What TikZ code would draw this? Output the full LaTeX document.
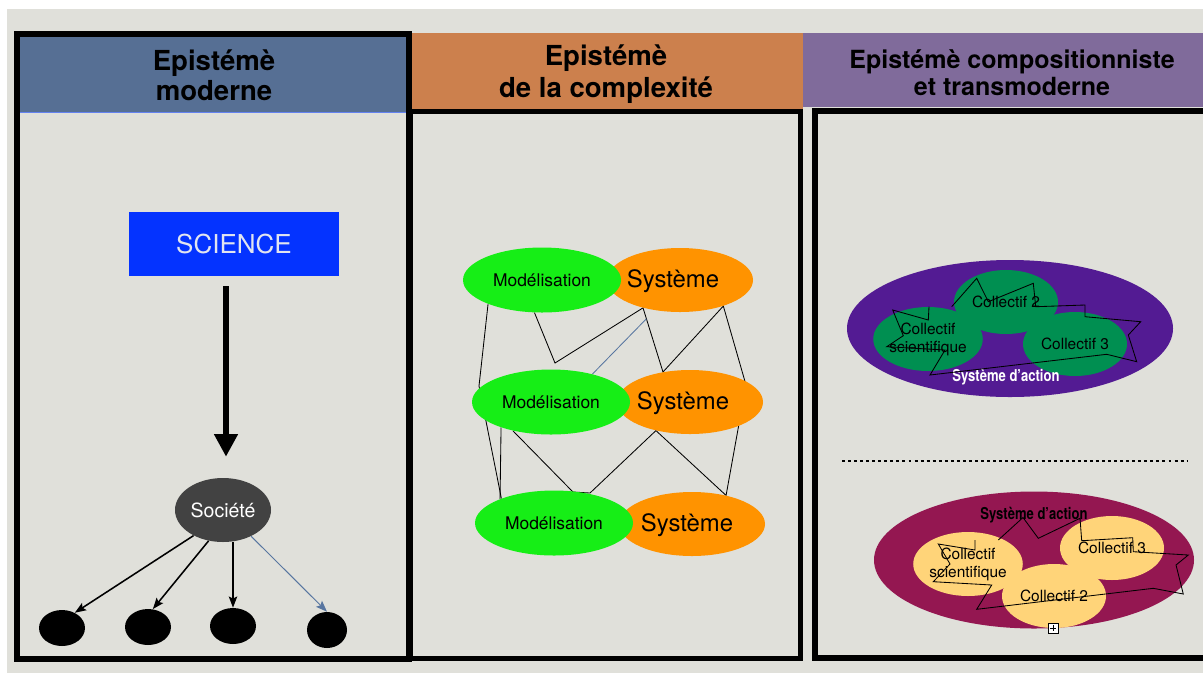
\documentclass[tikz,border=0pt]{standalone}
\usepackage{fontspec}
\setmainfont{TeX Gyre Heros}
\newfontfamily\condfont[FakeStretch=0.8]{TeX Gyre Heros}
\usetikzlibrary{shapes.geometric,arrows.meta,calc}
\pgfdeclarelayer{canvas}
\pgfdeclarelayer{links}
\pgfsetlayers{canvas,links,main}
\newdimen\pxu \pxu=0.025cm
\definecolor{canvasgray}{RGB}{224,224,218}
\definecolor{hdrblue}{RGB}{86,111,148}
\definecolor{hdrorange}{RGB}{204,128,77}
\definecolor{hdrpurple}{RGB}{128,107,155}
\definecolor{hdrline}{RGB}{100,130,240}
\definecolor{sciblue}{RGB}{4,51,255}
\definecolor{sciletter}{RGB}{226,229,240}
\definecolor{socgray}{RGB}{66,66,66}
\definecolor{slate}{RGB}{88,118,160}
\definecolor{modgreen}{RGB}{22,238,22}
\definecolor{sysorange}{RGB}{255,147,0}
\definecolor{collmoss}{RGB}{0,143,81}
\definecolor{ovalgrape}{RGB}{83,27,147}
\definecolor{ovalplum}{RGB}{148,23,81}
\definecolor{collmelon}{RGB}{255,212,121}
\begin{document}
\begin{tikzpicture}[x=0.025cm, y=-0.025cm,
    hdr/.style={inner sep=0, align=center, font=\bfseries},
    panelframe/.style={line width=6\pxu},
    scibox/.style={rectangle, fill=sciblue, inner sep=0, minimum width=210\pxu, minimum height=64\pxu,
      text=sciletter, font=\fontsize{18.5}{20}\selectfont},
    socnode/.style={ellipse, fill=socgray, inner sep=0, minimum width=96\pxu, minimum height=64\pxu,
      text=white, font=\fontsize{13.9}{15}\selectfont},
    blob/.style={ellipse, fill=black, inner sep=0, minimum width=46\pxu, minimum height=36\pxu},
    bigarrow/.style={line width=5.5\pxu, -{Triangle[width=16pt,length=16pt]}},
    sarrow/.style={line width=1.1pt, -{Stealth[length=8pt,width=6pt,inset=1.5pt]}},
    modl/.style={ellipse, fill=modgreen, inner sep=0, minimum width=158\pxu, minimum height=65\pxu,
      font=\fontsize{12.4}{14}\selectfont},
    sys/.style={ellipse, fill=sysorange, inner sep=0, minimum width=146\pxu, minimum height=64\pxu},
    systxt/.style={inner sep=0, font=\fontsize{17}{19}\selectfont},
    webline/.style={line width=0.6pt, line join=miter},
    coll/.style={ellipse, inner sep=0, minimum width=104\pxu, minimum height=64\pxu, align=center,
      font=\fontsize{11}{12.8}\selectfont},
    actlbl/.style={inner sep=0, font=\condfont\bfseries\fontsize{11.6}{13}\selectfont},
    scrib/.style={line width=0.6pt, line join=miter},
    dotline/.style={line width=2.1pt, dash pattern=on 2.1pt off 2.2pt},
    iconbox/.style={rectangle, draw=black, fill=white, line width=0.5pt, inner sep=0, minimum size=10\pxu}]
\useasboundingbox (0,0) rectangle (1203,673);
\clip (0,0) rectangle (1203,673);

\begin{pgfonlayer}{canvas}
  % Drawing canvas
  \fill[white] (0,0) rectangle (1203,673);
  \fill[canvasgray] (7,9) rectangle (1203,673);

  % Drawing headers
  \fill[hdrblue] (17,34) rectangle (409,112);
  \draw[hdrline, line width=1\pxu] (20,112) -- (407,112);
  \fill[hdrorange] (409,33) rectangle (803,110);
  \fill[hdrpurple] (803,33) rectangle (1203,107);
\end{pgfonlayer}

% Marking header texts
\node[hdr, font=\bfseries\fontsize{19.6}{21.3}\selectfont] (h1) at (214,75) {Epistémè\\moderne};
\node[hdr, font=\bfseries\fontsize{19.6}{22.8}\selectfont] (h2) at (606,74) {Epistémè\\de la complexité};
\node[hdr, font=\bfseries\fontsize{17.8}{19.2}\selectfont] (h3) at (1012,72.5) {Epistémè compositionniste\\et transmoderne};

% Drawing panel frames
\draw[panelframe] (17,34) rectangle (409,659);
\draw[panelframe, line width=5\pxu] (410,111) rectangle (800,658);
\draw[panelframe] (815,111) rectangle (1215,658);

% Drawing panel 1: science and society
\node[scibox] (sci) at (234,244) {SCIENCE};
\node[socnode] (soc) at (223,510) {Société};
\node[blob] (b1) at (62,628) {};
\node[blob] (b2) at (148,627) {};
\node[blob] (b3) at (233,626) {};
\node[blob, minimum width=40\pxu] (b4) at (327,630) {};
\draw[bigarrow] ([xshift=-8\pxu,yshift=-10\pxu]sci.south) -- ([xshift=3\pxu,yshift=21\pxu]soc.north);
\draw[sarrow] (soc.221) -- (b1.50);
\draw[sarrow] (soc.245) -- (b2.75);
\draw[sarrow] (soc.south -| b3.north) -- (b3.north);
\draw[sarrow, slate, line width=0.7pt] (soc.317) -- (b4.north);

% Drawing panel 2: modelling and systems
\node[sys] (s1) at (680,280) {};
\node[systxt] (s1t) at (673,281) {Système};
\node[modl] (m1) at (542,280) {Modélisation};
\node[sys] (s2) at (690,402) {};
\node[systxt] (s2t) at (683,403) {Système};
\node[modl] (m2) at (551,402) {Modélisation};
\node[sys] (s3) at (692,524) {};
\node[systxt] (s3t) at (687,525) {Système};
\node[modl] (m3) at (554,523) {Modélisation};

\begin{pgfonlayer}{links}
  % Drawing web of links
  \draw[webline] (m1.204) -- (479,386) -- (m3.155);
  \draw[webline] (m2.207) -- (m3.156);
  \draw[webline] (m1.257) -- (555,363) -- (s1.217) -- (s2.132) -- (s1.329) -- (746,385)
    -- (s3.40) -- (s2.220) -- (590,493) -- (573,492) -- (m2.217);
  \coordinate (tap) at ($(s1.217)!0.17!(s2.132)$);
  \draw[webline, slate] (tap) -- (m2.34);
\end{pgfonlayer}

% Drawing panel 3, upper: action system with collectives
\node[ellipse, fill=ovalgrape, inner sep=0, minimum width=326\pxu, minimum height=137\pxu] (sa1) at (1010,328.5) {};
\node[coll, fill=collmoss] (c2) at (1006,302) {Collectif 2};
\node[coll, fill=collmoss] (cs) at (928,339) {Collectif\\scientifique};
\node[coll, fill=collmoss] (c3) at (1075,344) {Collectif 3};
\node[actlbl, text=white] (sa1t) at (1006,377) {Système d’action};
\draw[scrib] (951.7,306.7) -- (976.7,278.3) -- (988.3,301.7) -- (1033.3,283.3) -- (1035.7,306.7)
  -- (1085,305) -- (1085,316.7) -- (1140.7,321.7) -- (1128.3,335) -- (1136.7,361.7)
  -- (1106.7,354.3) -- (930,375) -- (945,350) -- (886.7,346.7) -- (903.3,335.7)
  -- (892.7,310) -- (928.3,320) -- (929,306.7);

% Drawing separator
\coordinate (sepw) at (842,461);
\coordinate (sepe) at (1187,461);
\draw[dotline] (sepw) -- (sepe);

% Drawing panel 3, lower: action system with collectives
\node[ellipse, fill=ovalplum, inner sep=0, minimum width=320\pxu, minimum height=137\pxu] (sa2) at (1034,560) {};
\node[coll, fill=collmelon] (cs2) at (968,564) {Collectif\\scientifique};
\node[coll, fill=collmelon] (c22) at (1054,596) {Collectif 2};
\node[coll, fill=collmelon] (c32) at (1112,548) {Collectif 3};
\node[actlbl] (sa2t) at (1034,515) {Système d’action};
\draw[scrib] (998.3,540) -- (1023,517.5) -- (1038.3,538.3) -- (1080,518.3) -- (1081.7,540.7)
  -- (1132.7,537.7) -- (1133.3,551.7) -- (1188.3,555) -- (1176,565) -- (1183.3,594)
  -- (1153.3,588.3) -- (976.7,609.3) -- (991.7,585) -- (933.3,581.7) -- (950,564)
  -- (938.3,544) -- (975,550) -- (975,540);

% Marking expand icon
\node[iconbox] (ic) at (1053,628) {};
\draw[line width=0.5pt] ([yshift=-1.5pt]ic.north) -- ([yshift=1.5pt]ic.south)
  ([xshift=1.5pt]ic.west) -- ([xshift=-1.5pt]ic.east);
\end{tikzpicture}
\end{document}
